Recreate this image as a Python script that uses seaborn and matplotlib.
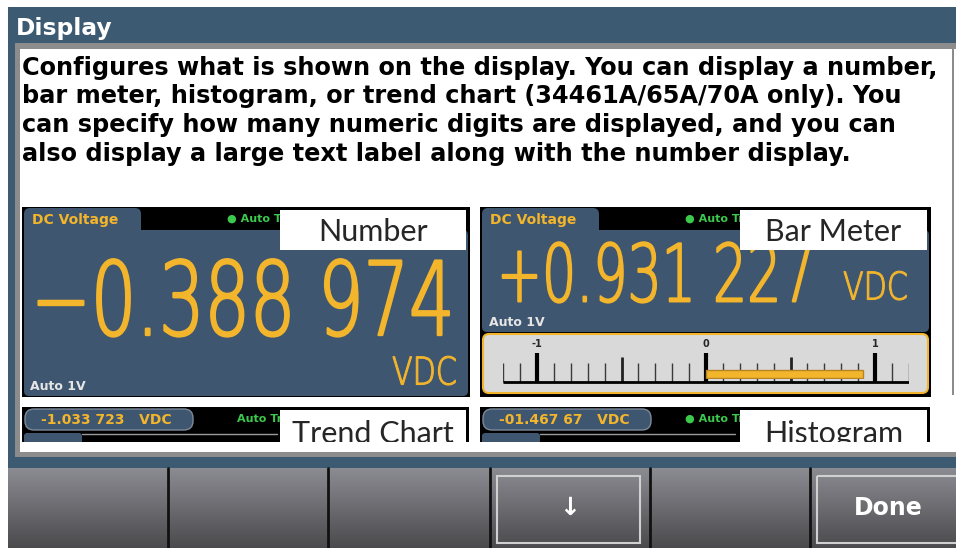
# Recreate the "Display" help screen of a bench DMM front panel
import numpy as np
import matplotlib.pyplot as plt
from matplotlib.patches import Rectangle, FancyBboxPatch
from matplotlib.colors import LinearSegmentedColormap
from matplotlib.patheffects import AbstractPathEffect
from matplotlib.transforms import Affine2D, Bbox
import seaborn as sns

sns.set_style("white")

## Screen content
title_text = "Display"
help_lines = [
    "Configures what is shown on the display. You can display a number,",
    "bar meter, histogram, or trend chart (34461A/65A/70A only). You",
    "can specify how many numeric digits are displayed, and you can",
    "also display a large text label along with the number display.",
]
panel_names = ["Number", "Bar Meter", "Trend Chart", "Histogram"]
big_readings = ["\u22120.388 974", "+0.931 227"]
strip_readings = ["-1.033 723   VDC", "-01.467 67   VDC"]
function_name = "DC Voltage"
range_label = "Auto 1V"
unit_label = "VDC"
trig_labels = ["\u25cf Auto Trig", "\u25cf Auto Trig", "Auto Trig", "\u25cf Auto Trig"]
meter_value = [0.931227]
meter_tick_pos = [-1, 0, 1]
meter_tick_labels = ["-1", "0", "1"]
softkey_labels = ["", "", "", "\u2193", "", "Done"]

# colors
FRAME = "#3d5a73"
PANEL = "#3e566f"
YELLOW = "#f3b52c"
GREEN = "#3cc84c"
BORDER = "#8c8c8c"
LABEL_FONT = ["Lato", "DejaVu Sans"]

W, H = 956, 548
fig = plt.figure(figsize=(W / 100, H / 100), dpi=100)
ax = fig.add_axes([0, 0, 1, 1])
ax.set_xlim(0, W)
ax.set_ylim(H, 0)
ax.axis("off")


# the meter's digits use a narrow face: squeeze the glyphs horizontally (and thicken a bit)
class Squeeze(AbstractPathEffect):
    def __init__(self, sx, lw=0):
        super().__init__()
        self.sx = sx
        self.lw = lw

    def draw_path(self, renderer, gc, tpath, affine, rgbFace=None):
        gc0 = renderer.new_gc()
        gc0.copy_properties(gc)
        gc0.set_linewidth(self.lw)
        gc0.set_foreground(rgbFace)
        gc0.set_joinstyle("round")
        renderer.draw_path(gc0, tpath, Affine2D().scale(self.sx, 1) + affine, rgbFace)
        gc0.restore()


def narrow_text(x, y, s, sx, lw, **kw):
    t = ax.text(x, y, s, ha="left", va="baseline", fontweight="light",
                path_effects=[Squeeze(sx, lw)], **kw)
    full = t.get_window_extent

    def squeezed(renderer=None, dpi=None):
        bb = full(renderer, dpi)
        return Bbox.from_extents(bb.x0, bb.y0, bb.x0 + bb.width * sx, bb.y1)
    t.get_window_extent = squeezed
    return t


def rect(x0, y0, x1, y1, color, z=1, r=0, **kw):
    if r:
        p = FancyBboxPatch((x0, y0), x1 - x0, y1 - y0, boxstyle=f"round,pad=0,rounding_size={r}",
                           facecolor=color, zorder=z, **kw)
    else:
        p = Rectangle((x0, y0), x1 - x0, y1 - y0, facecolor=color, zorder=z, **kw)
    ax.add_patch(p)
    return p


## Frame, title bar, help text
rect(8, 7, W, 468, FRAME, z=0, linewidth=0)
rect(15, 43, W, 457, BORDER, z=0.5, linewidth=0)
rect(20, 49, W, 452, "white", z=0.6, linewidth=0)
rect(952, 49, 954, 395, BORDER, z=0.7, linewidth=0)
ax.text(16, 35, title_text, color="white", fontsize=16.8, fontweight="bold", va="baseline")
for i, line in enumerate(help_lines):
    ax.text(22, 75 + i * 28.5, line, color="black", fontsize=17.3, fontweight="bold", va="baseline")

## Screenshot panels (left edge, right edge)
cols = [(22, 470), (480, 931)]
for c, (x0, x1) in enumerate(cols):
    lx0 = x0 + 258 if c == 0 else x0 + 260
    # top row: number / bar meter
    body_bottom = 396 if c == 0 else 332
    rect(x0, 207, x1, 397, "black", z=1, linewidth=0)
    rect(x0 + 2, 230, x1 - 2, body_bottom, PANEL, z=2, r=5, linewidth=0)
    rect(x0 + 2, 208, x0 + 119, 240, PANEL, z=2, r=6, linewidth=0)
    ax.text(x0 + 10, 220, function_name, color=YELLOW, fontsize=10, fontweight="bold", va="center", zorder=3)
    ax.text(x0 + 205, 219, trig_labels[c], color=GREEN, fontsize=8, fontweight="bold", va="center", zorder=3)
    rect(lx0, 210, x1 - 4, 250, "white", z=5, linewidth=0)
    ax.text((lx0 + x1 - 4) / 2, 241, panel_names[c], family=LABEL_FONT, fontsize=22, ha="center",
            va="baseline", zorder=6)
    # bottom row: trend chart / histogram (cut off)
    rect(x0, 407, x1 - 1, 452, "black", z=1, linewidth=0)
    rect(x0 + 3, 409, x0 + 171, 430, PANEL, z=2, r=9, edgecolor="#7d8a99", linewidth=1)
    ax.text(x0 + 19, 419.5, strip_readings[c], color=YELLOW, fontsize=10, fontweight="bold",
            va="center", zorder=3)
    ax.text(x0 + 205 + (10 if c == 0 else 0), 419, trig_labels[c + 2], color=GREEN, fontsize=8,
            fontweight="bold", va="center", zorder=3)
    rect(x0 + 2, 433, x0 + 60, 446, PANEL, z=2, r=3, linewidth=0)
    ax.plot([x0 + 60, x0 + 255], [433.5, 433.5], color="#9a9a9a", lw=1, zorder=2)
    rect(lx0, 410, x1 - 4, 452, "white", z=5, linewidth=0)
    ax.text((lx0 + x1 - 4) / 2, 443, panel_names[c + 2], family=LABEL_FONT, fontsize=22, ha="center",
            va="baseline", zorder=6)

# number display
narrow_text(31, 335, big_readings[0], 0.70, 1.7, color=YELLOW, fontsize=73.5, zorder=3)
narrow_text(392, 384.5, unit_label, 0.79, 0.8, color=YELLOW, fontsize=27.5, zorder=3)
ax.text(30, 390, range_label, color="#e6e6e6", fontsize=9, fontweight="bold", va="baseline", zorder=3)
# bar meter display
narrow_text(497, 301.5, big_readings[1], 0.673, 1.4, color=YELLOW, fontsize=57.5, zorder=3)
narrow_text(843, 299.5, unit_label, 0.79, 0.8, color=YELLOW, fontsize=27.5, zorder=3)
ax.text(489, 326, range_label, color="#e6e6e6", fontsize=9, fontweight="bold", va="baseline", zorder=3)
rect(483, 334, 928, 393, "#d9d9d9", z=2, r=6, edgecolor=YELLOW, linewidth=1.5)

# clip the lower panels
rect(20, 441.5, 952, 452, "white", z=10, linewidth=0)

## Soft keys
grad = np.linspace(0, 1, 80).reshape(-1, 1)
key_cmap = LinearSegmentedColormap.from_list("keys", ["#8b8b92", "#4b4b4e"])
ax.imshow(grad, extent=(8, W, 548, 468), aspect="auto", cmap=key_cmap, zorder=1)
key_edges = [8, 168, 328, 490, 650, 810, W]
for i, lab in enumerate(softkey_labels):
    if i > 0:
        ax.plot([key_edges[i], key_edges[i]], [468, 548], color="#111111", lw=2, zorder=2)
    if lab:
        kx0 = key_edges[i] + 7
        kx1 = key_edges[i + 1] - 10 if i < 5 else W + 5
        ax.add_patch(Rectangle((kx0, 476), kx1 - kx0, 67, fill=False, edgecolor="#d0d0d0", lw=1.5, zorder=3))
        cx = (key_edges[i] + key_edges[i + 1]) / 2 + (0 if i < 5 else 5)
        ax.text(cx, 508, lab, color="white", fontsize=18 if i == 3 else 17, fontweight="bold",
                ha="center", va="center", zorder=4)
ax.set_xlim(0, W)
ax.set_ylim(H, 0)

## Bar meter scale (-1.2 .. 1.2) drawn in its own axes
mx0, mx1 = 503.2, 908.8
max_ = fig.add_axes([mx0 / W, 1 - 386 / H, (mx1 - mx0) / W, 46 / H])
max_.set_facecolor("none")
max_.set_xlim(-1.2, 1.2)
max_.set_ylim(0, 46)
max_.axis("off")
ticks = np.round(np.arange(-12, 13) / 10, 1)
minor = [t for t in ticks if abs(t * 2 - round(t * 2)) > 1e-6]
medium = [-0.5, 0.5]
max_.vlines(minor, 4, 23, color="#3a3a3a", lw=1)
max_.vlines(medium, 4, 29, color="#222222", lw=2)
max_.vlines(meter_tick_pos, 4, 33, color="black", lw=3)
max_.hlines(4, -1.2, 1.2, color="black", lw=2)
for p, lab in zip(meter_tick_pos, meter_tick_labels):
    max_.text(p, 42, lab, fontsize=7, fontweight="bold", ha="center", va="center")

bar_ax = fig.add_axes([mx0 / W, 1 - 379 / H, (mx1 - mx0) / W, 10 / H])
sns.barplot(x=meter_value, y=["DCV"], orient="h", width=0.8, color=YELLOW,
            edgecolor="#b98523", linewidth=1, saturation=1, ax=bar_ax)
bar_ax.set_facecolor("none")
bar_ax.set_xlim(-1.2, 1.2)
bar_ax.set_ylim(0.5, -0.5)
bar_ax.axis("off")

fig.savefig("out.png", dpi=100)
